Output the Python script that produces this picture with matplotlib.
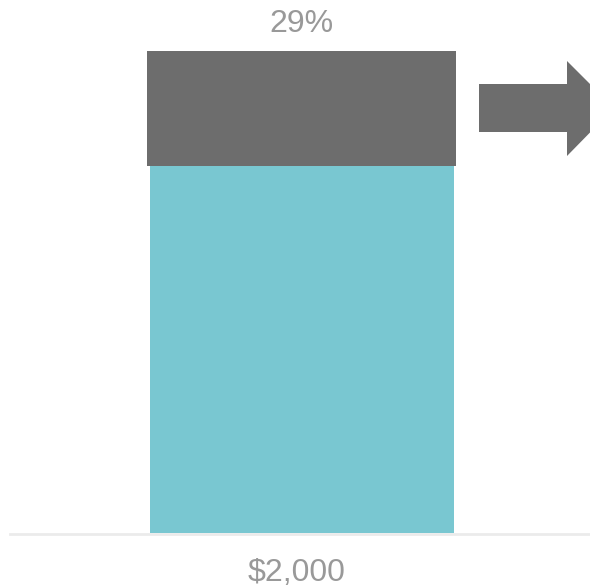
import matplotlib
matplotlib.use("Agg")
import matplotlib.pyplot as plt
from matplotlib.patches import Polygon

plt.rcParams['font.family'] = ['Liberation Sans', 'DejaVu Sans']

# data
category = ["$2,000"]
base_vals = [76.2]
top_vals = [23.8]
top_label = "29%"

W, H = 590, 588
fig = plt.figure(figsize=(W / 100, H / 100), dpi=100)
# axes spans from bar bottom (y=533) up to bar top (y=51), x from 10 to 590
ax = fig.add_axes([10 / W, (H - 533) / H, 580 / W, 482 / H])

ax.bar(0, base_vals[0], width=0.8, color="#79c7d1", zorder=2)
ax.bar(0, top_vals[0], bottom=base_vals[0], width=0.813, color="#6d6d6d", zorder=2)

ax.set_xlim(-0.768, 0.758)
ax.set_ylim(0, 100)
ax.axhline(-0.3, color="#ebebeb", lw=2.0, zorder=1, clip_on=False)
for s in ax.spines.values():
    s.set_visible(False)
ax.set_xticks([])
ax.set_yticks([])

ax.text(0, 103.9, top_label, ha="center", va="baseline",
        fontsize=23, color="#999999")
ax.text(-0.013, -9.9, category[0], ha="center", va="baseline",
        fontsize=23, color="#999999")

# arrow on the right (figure pixels -> fraction)
pts = [(479, 84), (567, 84), (567, 61), (614, 108), (567, 156), (567, 132), (479, 132)]
arrow = Polygon([(x / W, (H - y) / H) for x, y in pts], closed=True,
                transform=fig.transFigure, facecolor="#6d6d6d", edgecolor="none")
fig.patches.append(arrow)

fig.savefig("out.png", dpi=100)
